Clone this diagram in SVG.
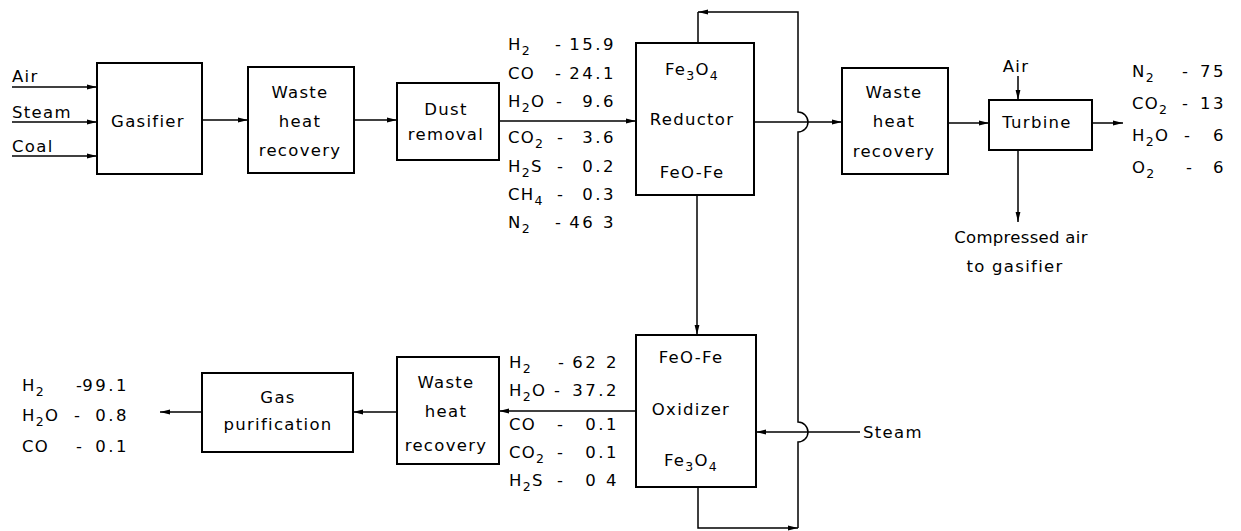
<svg xmlns="http://www.w3.org/2000/svg" width="1241" height="531" viewBox="0 0 1241 531">
<defs>
<marker id="ah" viewBox="0 0 10 6" refX="10" refY="3" markerWidth="10" markerHeight="6" markerUnits="userSpaceOnUse" orient="auto"><path d="M0,0.6 L10,3 L0,5.4 z" fill="#000"/></marker>
</defs>
<style>
.box{fill:#fff;stroke:#000;stroke-width:2}
.ln{fill:none;stroke:#000;stroke-width:1.5}
.ar{marker-end:url(#ah)}
text{font-family:"DejaVu Sans","Liberation Sans",sans-serif;font-size:16.5px;letter-spacing:1.3px;fill:#000}
.c{text-anchor:middle}
.s{font-size:12.5px}
.v{text-anchor:end;letter-spacing:2.5px}
.n{letter-spacing:0.3px}
</style>
<rect width="1241" height="531" fill="#fff"/>
<g id="connectors">
<path class="ln ar" d="M12,87 H97"/>
<path class="ln ar" d="M12,122 H97"/>
<path class="ln ar" d="M12,156 H97"/>
<path class="ln ar" d="M202,120 H248"/>
<path class="ln ar" d="M354,120 H397"/>
<path class="ln ar" d="M499,121 H636"/>
<path class="ln ar" d="M754,122 H842"/>
<path class="ln ar" d="M948,123 H989"/>
<path class="ln ar" d="M1018,76 V100"/>
<path class="ln ar" d="M1092,123 H1123"/>
<path class="ln ar" d="M1018,150 V222"/>
<path class="ln ar" d="M697,195 V335"/>
<path class="ln ar" d="M636,411 H499"/>
<path class="ln ar" d="M397,412 H353"/>
<path class="ln ar" d="M202,412 H160"/>
<path class="ln ar" d="M860,432 H756"/>
<path class="ln ar" d="M698,487 V528 H798"/>
<path class="ln ar" d="M798,528 V442 A10,10 0 0 0 798,422 V132 A10,10 0 0 0 798,112 V12 H698"/>
<path class="ln" d="M698,12 V43"/>
</g>
<g id="inputs">
<text x="12" y="82">Air</text>
<text x="12" y="118">Steam</text>
<text x="12" y="152">Coal</text>
</g>
<g id="gasifier">
<rect class="box" x="97" y="63" width="105" height="111"/>
<text class="c" x="148" y="127">Gasifier</text>
</g>
<g id="whr1">
<rect class="box" x="248" y="67" width="106" height="106"/>
<text class="c" x="300" y="98">Waste</text>
<text class="c" x="300" y="127">heat</text>
<text class="c" x="300" y="156">recovery</text>
</g>
<g id="dust">
<rect class="box" x="397" y="83" width="102" height="77"/>
<text class="c" x="446" y="115">Dust</text>
<text class="c" x="446" y="140">removal</text>
</g>
<g id="feed-gas">
<text x="508" y="50">H<tspan class="s" dy="5">2</tspan><tspan x="555" dy="-5">-</tspan><tspan class="v" x="616">15.9</tspan></text>
<text x="508" y="79">CO<tspan x="555">-</tspan><tspan class="v" x="616">24.1</tspan></text>
<text x="508" y="107">H<tspan class="s" dy="5">2</tspan><tspan dy="-5">O</tspan><tspan x="556">-</tspan><tspan class="v" x="616">9.6</tspan></text>
<text x="508" y="143">CO<tspan class="s" dy="5">2</tspan><tspan x="557" dy="-5">-</tspan><tspan class="v" x="616">3.6</tspan></text>
<text x="508" y="172">H<tspan class="s" dy="5">2</tspan><tspan dy="-5">S</tspan><tspan x="557">-</tspan><tspan class="v" x="616">0.2</tspan></text>
<text x="508" y="200">CH<tspan class="s" dy="5">4</tspan><tspan x="557" dy="-5">-</tspan><tspan class="v" x="616">0.3</tspan></text>
<text x="508" y="228">N<tspan class="s" dy="5">2</tspan><tspan x="555" dy="-5">-</tspan><tspan class="v" x="616">46 3</tspan></text>
</g>
<g id="reductor">
<rect class="box" x="636" y="43" width="118" height="152"/>
<text class="c" x="692" y="75">Fe<tspan class="s" dy="5">3</tspan><tspan dy="-5">O</tspan><tspan class="s" dy="5">4</tspan></text>
<text class="c" x="692" y="125">Reductor</text>
<text class="c" x="692" y="178">FeO-Fe</text>
</g>
<g id="whr2">
<rect class="box" x="842" y="68" width="106" height="106"/>
<text class="c" x="894" y="98">Waste</text>
<text class="c" x="894" y="127">heat</text>
<text class="c" x="894" y="157">recovery</text>
</g>
<g id="turbine">
<rect class="box" x="989" y="100" width="103" height="50"/>
<text class="c" x="1037" y="128">Turbine</text>
<text class="c" x="1016" y="72">Air</text>
<text class="c n" x="1021" y="243">Compressed air</text>
<text class="c" x="1015" y="272">to gasifier</text>
</g>
<g id="flue-gas">
<text x="1132" y="77">N<tspan class="s" dy="5">2</tspan><tspan x="1182" dy="-5">-</tspan><tspan class="v" x="1226">75</tspan></text>
<text x="1132" y="109">CO<tspan class="s" dy="5">2</tspan><tspan x="1182" dy="-5">-</tspan><tspan class="v" x="1226">13</tspan></text>
<text x="1132" y="141">H<tspan class="s" dy="5">2</tspan><tspan dy="-5">O</tspan><tspan x="1184">-</tspan><tspan class="v" x="1226">6</tspan></text>
<text x="1132" y="173">O<tspan class="s" dy="5">2</tspan><tspan x="1186" dy="-5">-</tspan><tspan class="v" x="1226">6</tspan></text>
</g>
<g id="oxidizer">
<rect class="box" x="636" y="335" width="120" height="152"/>
<text class="c" x="691" y="363">FeO-Fe</text>
<text class="c" x="691" y="415">Oxidizer</text>
<text class="c" x="691" y="466">Fe<tspan class="s" dy="5">3</tspan><tspan dy="-5">O</tspan><tspan class="s" dy="5">4</tspan></text>
<text x="863" y="438">Steam</text>
</g>
<g id="hydrogen-gas">
<text x="509" y="368">H<tspan class="s" dy="5">2</tspan><tspan x="558" dy="-5">-</tspan><tspan class="v" x="619">62 2</tspan></text>
<text x="509" y="396">H<tspan class="s" dy="5">2</tspan><tspan dy="-5">O</tspan><tspan x="554">-</tspan><tspan class="v" x="619">37.2</tspan></text>
<text x="509" y="430">CO<tspan x="557">-</tspan><tspan class="v" x="619">0.1</tspan></text>
<text x="509" y="458">CO<tspan class="s" dy="5">2</tspan><tspan x="557" dy="-5">-</tspan><tspan class="v" x="619">0.1</tspan></text>
<text x="509" y="486">H<tspan class="s" dy="5">2</tspan><tspan dy="-5">S</tspan><tspan x="557">-</tspan><tspan class="v" x="619">0 4</tspan></text>
</g>
<g id="whr3">
<rect class="box" x="397" y="357" width="102" height="107"/>
<text class="c" x="446" y="388">Waste</text>
<text class="c" x="446" y="417">heat</text>
<text class="c" x="446" y="451">recovery</text>
</g>
<g id="gas-purification">
<rect class="box" x="202" y="373" width="151" height="79"/>
<text class="c" x="278" y="403">Gas</text>
<text class="c" x="278" y="430">purification</text>
</g>
<g id="product-gas">
<text x="22" y="391">H<tspan class="s" dy="5">2</tspan><tspan x="76" dy="-5">-</tspan><tspan class="v" x="129">99.1</tspan></text>
<text x="22" y="421">H<tspan class="s" dy="5">2</tspan><tspan dy="-5">O</tspan><tspan x="74">-</tspan><tspan class="v" x="129">0.8</tspan></text>
<text x="22" y="452">CO<tspan x="76">-</tspan><tspan class="v" x="129">0.1</tspan></text>
</g>
</svg>
